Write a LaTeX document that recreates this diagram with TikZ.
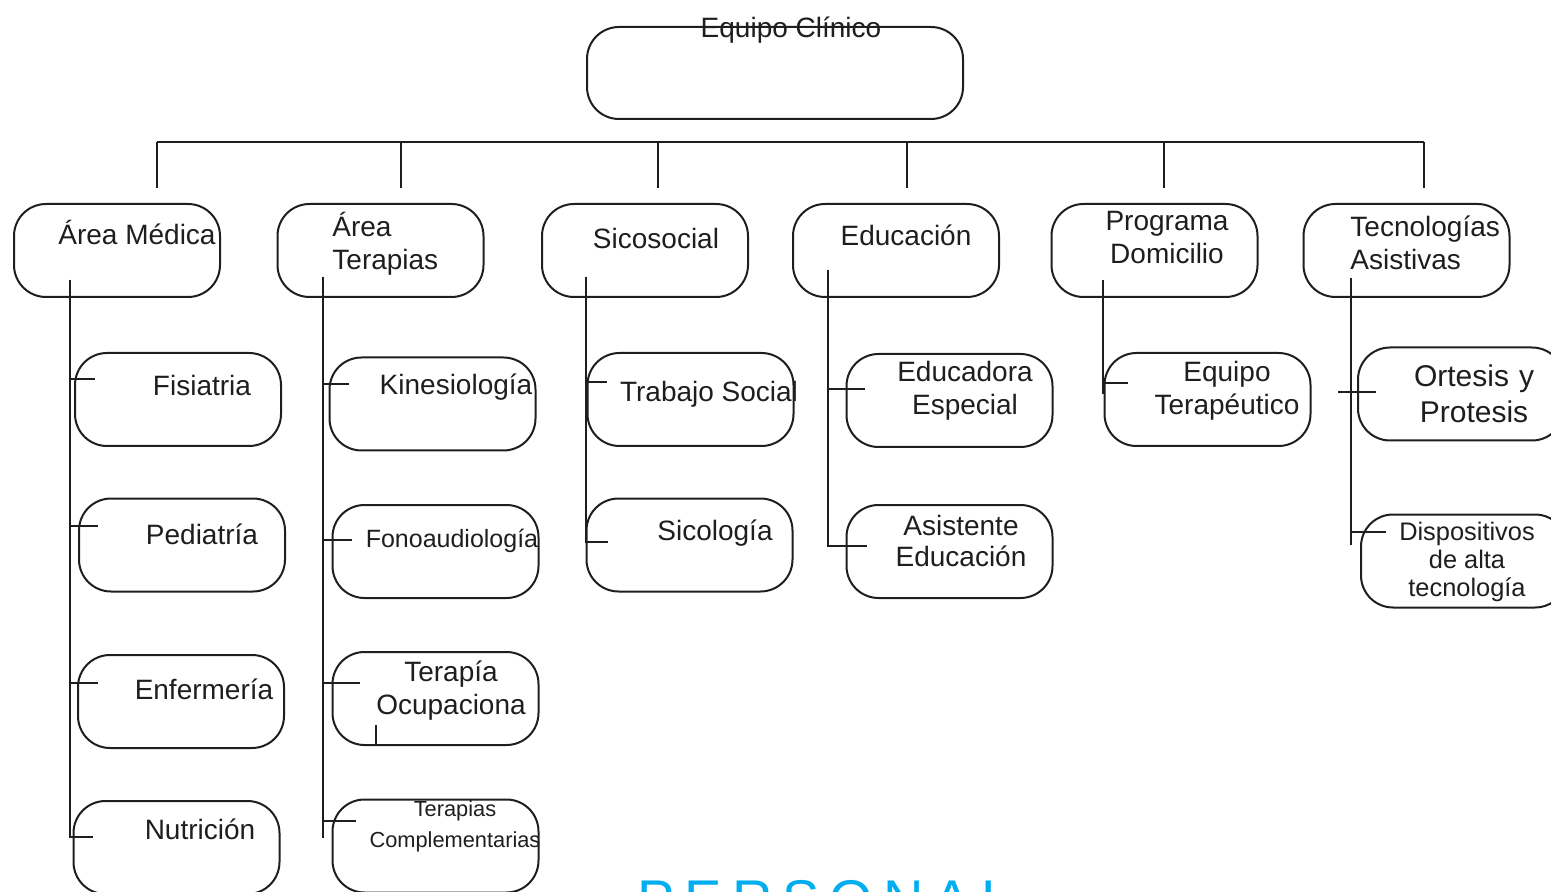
\documentclass[tikz,border=0pt]{standalone}
\usepackage{fontspec}
\setmainfont{Liberation Sans}
\usetikzlibrary{calc}
\definecolor{pcyan}{RGB}{0,174,239}
\definecolor{ink}{RGB}{30,30,30}
\newcommand{\mlines}[2]{\begin{tabular}[t]{@{}#1@{}}#2\end{tabular}}
\begin{document}
\begin{tikzpicture}[x=0.5pt,y=-0.5pt,
  box/.style={draw=ink, line width=1pt, rounded corners=16pt, minimum width=103pt, minimum height=46.5pt, inner sep=0pt},
  lbl/.style={anchor=base, inner sep=0pt, yshift=-1pt, text=ink, font=\fontsize{14}{16.5}\selectfont},
  con/.style={draw=ink, line width=1pt}]
\useasboundingbox (0,0) rectangle (1551,892);
\clip (0,0) rectangle (1551,892);

% top box
\node[box, minimum width=188pt, minimum height=46pt] (top) at (775,73) {};
\node[lbl] (ttop) at (791,36) {Equipo Clínico};

% level 2 boxes
\node[box] (med) at (117,250.5) {};
\node[box] (ter) at (380.5,250.5) {};
\node[box] (sic) at (645,250.5) {};
\node[box] (edu) at (896,250.5) {};
\node[box] (dom) at (1154.5,250.5) {};
\node[box] (tec) at (1406.5,250.5) {};

\node[lbl] (tmed) at (137,243) {Área Médica};
\node[lbl, anchor=base west] (tter) at (332,235) {\mlines{l}{Área\\Terapias}};
\node[lbl] (tsic) at (656,247) {Sicosocial};
\node[lbl] (tedu) at (906,244) {Educación};
\node[lbl] (tdom) at (1167,229) {\mlines{c}{Programa\\Domicilio}};
\node[lbl, anchor=base west] (ttec) at (1350,235) {\mlines{l}{Tecnologías\\Asistivas}};

% bus
\coordinate (busL) at (157,142);
\coordinate (busR) at (1424,142);
\draw[con] (busL) -- (busR);
\foreach \x/\n in {157/med,401/ter,658/sic,907/edu,1164/dom,1424/tec}{
  \coordinate (d\n) at (\x,188);
  \draw[con] (busL -| d\n) -- (d\n);
}

% level 3 boxes
\node[box] (fis) at (178,399.5) {};
\node[box] (ped) at (182,545) {};
\node[box] (enf) at (181,701.5) {};
\node[box] (nut) at (176.5,847.5) {};
\node[box] (kin) at (432.5,404) {};
\node[box] (fon) at (435.5,551.5) {};
\node[box] (ocu) at (435.5,698.5) {};
\node[box] (com) at (435.5,846) {};
\node[box] (tra) at (690.5,399.5) {};
\node[box] (sco) at (689.5,545) {};
\node[box] (eed) at (949.5,400.5) {};
\node[box] (aed) at (949.5,551.5) {};
\node[box] (etp) at (1207.5,399.5) {};
\node[box] (ort) at (1461,394) {};
\node[box] (dis) at (1464,561) {};

\node[lbl] (tfis) at (202,394) {Fisiatria};
\node[lbl] (tped) at (202,542) {Pediatría};
\node[lbl] (tenf) at (204,697) {Enfermería};
\node[lbl] (tnut) at (200,837) {Nutrición};
\node[lbl] (tkin) at (456,393) {Kinesiología};
\node[lbl, font=\fontsize{12.5}{15}\selectfont] (tfon) at (452,545) {Fonoaudiología};
\node[lbl] (tocu) at (451,679) {\mlines{c}{Terapía\\Ocupaciona}};
\node[lbl, font=\fontsize{10.9}{15.5}\selectfont] (tcom) at (455,814) {\mlines{c}{Terapias\\Complementarias}};
\node[lbl] (ttra) at (709,400) {Trabajo Social};
\node[lbl] (tsco) at (715,538) {Sicología};
\node[lbl] (teed) at (965,380) {\mlines{c}{Educadora\\Especial}};
\node[lbl, font=\fontsize{14}{15.75}\selectfont] (taed) at (961,533) {\mlines{c}{Asistente\\Educación}};
\node[lbl] (tetp) at (1227,380) {\mlines{c}{Equipo\\Terapéutico}};
\node[lbl, font=\fontsize{15}{17.5}\selectfont] (tort) at (1474,385) {\mlines{c}{Ortesis\hspace{5pt}y\\Protesis}};
\node[lbl, font=\fontsize{12.7}{14}\selectfont] (tdis) at (1467,538) {\mlines{c}{Dispositivos\\de alta\\tecnología}};

% connectors: Área Médica
\coordinate (kmed) at (70,280);
\coordinate (kfis) at (95,379);
\coordinate (kped) at (98,526);
\coordinate (kenf) at (98,683);
\coordinate (knut) at (93,837);
\foreach \c in {kfis,kped,kenf,knut} \draw[con] (kmed) |- (\c);

% Área Terapias
\coordinate (kter) at (323,277);
\coordinate (bter) at (323,838);
\coordinate (kkin) at (349,384);
\coordinate (kfon) at (352,540);
\coordinate (kocu) at (360,683);
\coordinate (kcom) at (356,821);
\draw[con] (kter) -- (bter);
\foreach \c in {kkin,kfon,kocu,kcom} \draw[con] (kter) |- (\c);
\coordinate (socu1) at (376,725);
\coordinate (socu2) at (376,745);
\draw[con] (socu1) -- (socu2);

% Sicosocial
\coordinate (ksic) at (586,277);
\coordinate (ktra) at (607,382);
\coordinate (ksco) at (608,542);
\foreach \c in {ktra,ksco} \draw[con] (ksic) |- (\c);

% Educación
\coordinate (kedu) at (828,270);
\coordinate (keed) at (865,389);
\coordinate (kaed) at (867,546);
\foreach \c in {keed,kaed} \draw[con] (kedu) |- (\c);

% Programa Domicilio
\coordinate (kdom) at (1103,280);
\coordinate (bdom) at (1103,394);
\coordinate (ketp) at (1128,383);
\draw[con] (kdom) -- (bdom);
\draw[con] (kdom) |- (ketp);

% Tecnologías
\coordinate (ktec) at (1351,278);
\coordinate (btec) at (1351,545);
\coordinate (kortL) at (1338,392);
\coordinate (kort) at (1376,392);
\coordinate (kdis) at (1386,532);
\draw[con] (ktec) -- (btec);
\draw[con] (kortL) -- (kort);
\draw[con] (ktec) |- (kdis);

% PERSONAL
\node[anchor=base west, inner sep=0pt, text=pcyan, font=\fontsize{28}{30}\selectfont] (pers) at (637,919)
  {P\kern5pt E\kern5pt R\kern5pt S\kern5pt O\kern5pt N\kern5pt A\kern5pt L};
\end{tikzpicture}
\end{document}
